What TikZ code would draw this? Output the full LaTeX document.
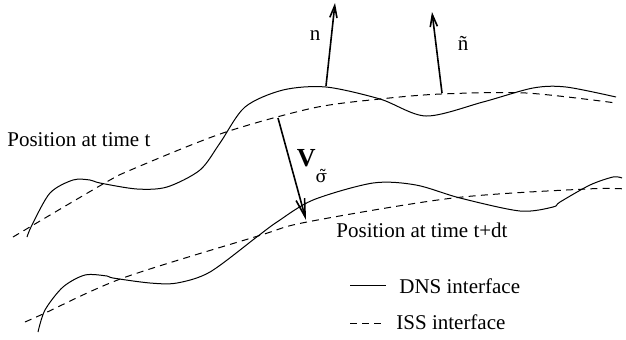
\documentclass[tikz,border=0pt]{standalone}
\usepackage{fontspec}
\setmainfont{Liberation Serif}
\newfontfamily\dvserif{DejaVu Serif}
\usetikzlibrary{arrows.meta}

\begin{document}
\begin{tikzpicture}[x=0.5pt,y=-0.5pt,font=\fontsize{10.5}{12}\selectfont,
  dns/.style={line width=0.5pt},
  iss/.style={line width=0.5pt,dash pattern=on 3.5pt off 2.6pt},
  vec/.style={line width=0.8pt,-{Straight Barb[length=6pt,width=3.6pt]}}]
  \useasboundingbox (0,0) rectangle (626,339);
  % interface at time t
  \draw[dns] plot[smooth,tension=0.5] coordinates {(27,237) (32,225) (50,193) (73,180) (90,180) (100,183) (137,189) (167,187) (200,170) (220,143) (245,107) (283,90) (326,87) (380,99) (426,116) (483,102) (533,88) (566,87) (616,97)};
  \draw[iss] plot[smooth] coordinates {(13,237) (103,184) (133,169) (223,133) (313,108) (380,99) (441,94) (526,93) (616,103)};
  % interface at time t+dt
  \draw[dns] plot[smooth,tension=0.5] coordinates {(38,332) (45,310) (63,287) (85,275) (107,276) (113,278) (150,283) (177,283) (210,272) (258,236) (277,222) (313,200) (373,183) (416,185) (460,198) (520,211) (553,207) (560,202) (590,185) (613,177) (622,178)};
  \draw[iss] plot[smooth] coordinates {(25,322) (43,314) (123,278) (258,236) (307,222) (453,198) (586,189) (626,189)};
  % normals and velocity
  \coordinate (nb) at (326,86);
  \coordinate (nt) at (335,3);
  \coordinate (mb) at (442,93);
  \coordinate (mt) at (432,12);
  \coordinate (vb) at (278,118);
  \coordinate (vt) at (306,220);
  \draw[vec] (nb) -- (nt);
  \draw[vec] (mb) -- (mt);
  \draw[vec,-{Straight Barb[length=9pt,width=4.4pt]}] (vb) -- (vt);
  \node (nlab) at (315,36) {n};
  \node (mlab) at (463,43) {ñ};
  \node (vlab) at (312,166) {\fontsize{13}{14}\selectfont\bfseries V\raisebox{-1.3ex}{\fontsize{8.5}{9}\dvserif\mdseries σ̃}};
  % positions
  \node (post) at (7,140) [right,inner sep=0] {Position at time t};
  \node (posdt) at (336,230) [right,inner sep=0] {Position at time t+dt};
  % legend
  \coordinate (da) at (350,285);
  \coordinate (db) at (386,285);
  \coordinate (ia) at (350,323);
  \coordinate (ib) at (386,323);
  \draw[dns] (da) -- (db);
  \draw[iss] (ia) -- (ib);
  \node (dnslab) at (399,286) [right,inner sep=0] {DNS interface};
  \node (isslab) at (396,322) [right,inner sep=0] {ISS interface};
\end{tikzpicture}
\end{document}
